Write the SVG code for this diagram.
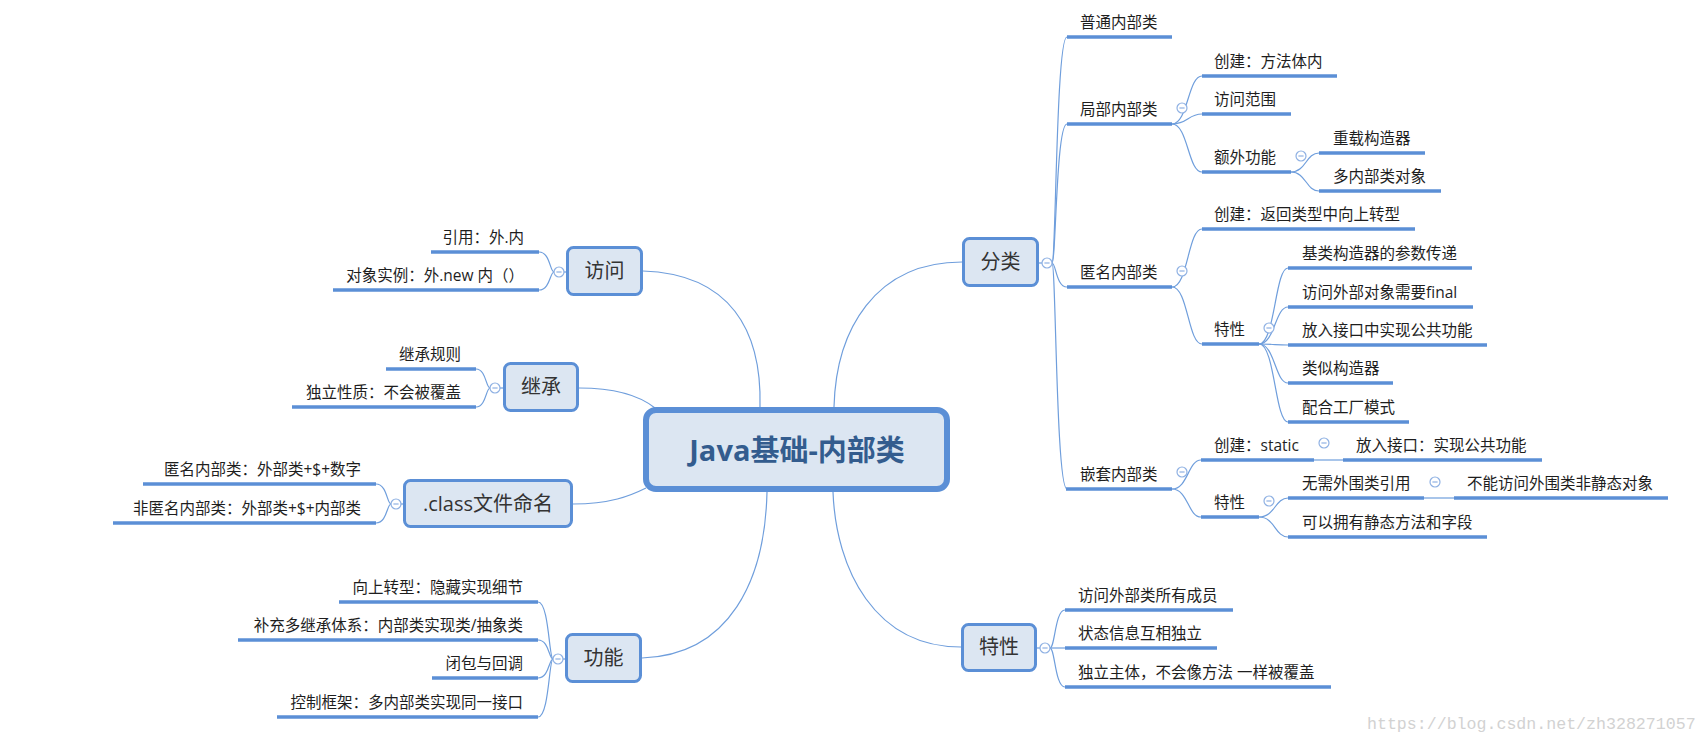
<svg xmlns="http://www.w3.org/2000/svg" xmlns:xlink="http://www.w3.org/1999/xlink" width="1708" height="744" viewBox="0 0 1708 744">
<style>
.bg{fill:#ffffff}
.box{fill:#DCE6F2;stroke:#5B8FD6;stroke-width:3}
.main{fill:#DCE6F2;stroke:#5B8FD6;stroke-width:6}
.ul{stroke:#5B8FD6;stroke-width:3.5;fill:none}
.cn{fill:none;stroke:#6F9EDC;stroke-width:1.2}
.t{font-family:"Open Sans","Noto Sans CJK SC",sans-serif;font-size:15.5px;fill:#1E1E1E}
.r{text-anchor:end}
.bt{font-family:"Open Sans","Noto Sans CJK SC",sans-serif;font-size:20px;fill:#333333;text-anchor:middle}
.mt{font-family:"Open Sans","Noto Sans CJK SC",sans-serif;font-size:29px;font-weight:bold;fill:#335C8E;text-anchor:middle}
.wm{font-family:"Liberation Mono",monospace;font-size:16.6px;fill:#D2D2D2}
</style>
<defs>
<g id="tog"><circle cx="0" cy="0" r="5" fill="#ffffff" stroke="#8FB1E3" stroke-width="1.2"/><line x1="-2.6" y1="0" x2="2.6" y2="0" stroke="#8FB1E3" stroke-width="1.2"/></g>
</defs>
<rect class="bg" x="0" y="0" width="1708" height="744"/>

<g id="connectors">
<path class="cn" d="M643,271 C730,274 762,330 760,407"/>
<path class="cn" d="M579,388 C615,388 640,396 655,408"/>
<path class="cn" d="M573,504 C610,504 630,496 646,488"/>
<path class="cn" d="M642,658 C730,655 765,580 767,492"/>
<path class="cn" d="M962,262 C875,262 836,330 834,407"/>
<path class="cn" d="M961,647 C875,647 836,570 833,492"/>
<path class="cn" d="M566,272 L554,272"/>
<path class="cn" d="M554,272 C550,272 550,252 539,252"/>
<path class="cn" d="M554,272 C550,272 550,290 539,290"/>
<path class="cn" d="M503,388 L490,388"/>
<path class="cn" d="M490,388 C486,388 486,369 476,369"/>
<path class="cn" d="M490,388 C486,388 486,407 476,407"/>
<path class="cn" d="M403,504 L391,504"/>
<path class="cn" d="M391,504 C387,504 387,484 376,484"/>
<path class="cn" d="M391,504 C387,504 387,523 376,523"/>
<path class="cn" d="M565,659 L553,659"/>
<path class="cn" d="M553,659 C549,659 549,602 538,602"/>
<path class="cn" d="M553,659 C549,659 549,640 538,640"/>
<path class="cn" d="M553,659 C549,659 549,678 538,678"/>
<path class="cn" d="M553,659 C549,659 549,717 538,717"/>
<path class="cn" d="M1039,263 L1052,263"/>
<path class="cn" d="M1052,263 C1056,263 1056,37 1067,37"/>
<path class="cn" d="M1052,263 C1056,263 1056,124 1067,124"/>
<path class="cn" d="M1052,263 C1056,263 1056,287 1067,287"/>
<path class="cn" d="M1052,263 C1056,263 1056,489 1067,489"/>
<path class="cn" d="M1172,124 C1188,124 1188,76 1202,76"/>
<path class="cn" d="M1172,124 C1188,124 1188,114 1202,114"/>
<path class="cn" d="M1172,124 C1188,124 1188,172 1202,172"/>
<path class="cn" d="M1291,172 C1306,172 1306,153 1319,153"/>
<path class="cn" d="M1291,172 C1306,172 1306,191 1319,191"/>
<path class="cn" d="M1172,287 C1188,287 1188,229 1202,229"/>
<path class="cn" d="M1172,287 C1188,287 1188,344 1202,344"/>
<path class="cn" d="M1259,344 C1275,344 1275,268 1288,268"/>
<path class="cn" d="M1259,344 C1275,344 1275,307 1288,307"/>
<path class="cn" d="M1259,344 C1275,344 1275,345 1288,345"/>
<path class="cn" d="M1259,344 C1275,344 1275,383 1288,383"/>
<path class="cn" d="M1259,344 C1275,344 1275,422 1288,422"/>
<path class="cn" d="M1172,489 C1188,489 1188,460 1201,460"/>
<path class="cn" d="M1172,489 C1188,489 1188,517 1201,517"/>
<path class="cn" d="M1314,460 L1343,460"/>
<path class="cn" d="M1259,517 C1275,517 1275,498 1288,498"/>
<path class="cn" d="M1259,517 C1275,517 1275,537 1288,537"/>
<path class="cn" d="M1424,498 L1454,498"/>
<path class="cn" d="M1037,648 L1050,648"/>
<path class="cn" d="M1050,648 C1055,648 1055,610 1065,610"/>
<path class="cn" d="M1050,648 C1055,648 1055,648 1065,648"/>
<path class="cn" d="M1050,648 C1055,648 1055,687 1065,687"/>
</g>

<g id="n-root">
<rect class="main" x="646" y="410" width="301" height="79" rx="10"/>
<text class="mt" x="797" y="461">Java基础-内部类</text>
</g>

<g id="n-fangwen">
<rect class="box" x="567.5" y="247.5" width="74" height="47" rx="6"/>
<text class="bt" x="604.5" y="278">访问</text>
<use xlink:href="#tog" x="559" y="272"/>
</g>
<g id="n-yinyong"><line class="ul" x1="431" y1="252" x2="539" y2="252"/><text class="t r" x="524" y="243">引用：外.内</text></g>
<g id="n-duixiang"><line class="ul" x1="333" y1="290" x2="539" y2="290"/><text class="t r" x="524" y="281">对象实例：外.new 内（）</text></g>

<g id="n-jicheng">
<rect class="box" x="504.5" y="363.5" width="73" height="47" rx="6"/>
<text class="bt" x="541" y="394">继承</text>
<use xlink:href="#tog" x="495" y="388"/>
</g>
<g id="n-jichengguize"><line class="ul" x1="386" y1="369" x2="476" y2="369"/><text class="t r" x="461" y="360">继承规则</text></g>
<g id="n-duli"><line class="ul" x1="292" y1="407" x2="476" y2="407"/><text class="t r" x="461" y="398">独立性质：不会被覆盖</text></g>

<g id="n-class">
<rect class="box" x="404.5" y="480.5" width="167" height="46" rx="6"/>
<text class="bt" x="488" y="511">.class文件命名</text>
<use xlink:href="#tog" x="396" y="504"/>
</g>
<g id="n-niming"><line class="ul" x1="143" y1="484" x2="376" y2="484"/><text class="t r" x="361" y="475">匿名内部类：外部类+$+数字</text></g>
<g id="n-feiniming"><line class="ul" x1="113" y1="523" x2="376" y2="523"/><text class="t r" x="361" y="514">非匿名内部类：外部类+$+内部类</text></g>

<g id="n-gongneng">
<rect class="box" x="566.5" y="634.5" width="74" height="47" rx="6"/>
<text class="bt" x="603.5" y="665">功能</text>
<use xlink:href="#tog" x="558" y="659"/>
</g>
<g id="n-xiangshang"><line class="ul" x1="339" y1="602" x2="538" y2="602"/><text class="t r" x="523" y="593">向上转型：隐藏实现细节</text></g>
<g id="n-buchong"><line class="ul" x1="238" y1="640" x2="538" y2="640"/><text class="t r" x="523" y="631">补充多继承体系：内部类实现类/抽象类</text></g>
<g id="n-bibao"><line class="ul" x1="432" y1="678" x2="538" y2="678"/><text class="t r" x="523" y="669">闭包与回调</text></g>
<g id="n-kongzhi"><line class="ul" x1="277" y1="717" x2="538" y2="717"/><text class="t r" x="523" y="708">控制框架：多内部类实现同一接口</text></g>

<g id="n-fenlei">
<rect class="box" x="963.5" y="238.5" width="74" height="47" rx="6"/>
<text class="bt" x="1000.5" y="269">分类</text>
<use xlink:href="#tog" x="1047" y="263"/>
</g>
<g id="n-putong"><line class="ul" x1="1067" y1="37" x2="1172" y2="37"/><text class="t" x="1080" y="28">普通内部类</text></g>
<g id="n-jubu"><line class="ul" x1="1067" y1="124" x2="1172" y2="124"/><text class="t" x="1080" y="115">局部内部类</text><use xlink:href="#tog" x="1182" y="108"/></g>
<g id="n-jubu-chuangjian"><line class="ul" x1="1202" y1="76" x2="1337" y2="76"/><text class="t" x="1214" y="67">创建：方法体内</text></g>
<g id="n-fanwei"><line class="ul" x1="1202" y1="114" x2="1291" y2="114"/><text class="t" x="1214" y="105">访问范围</text></g>
<g id="n-ewai"><line class="ul" x1="1202" y1="172" x2="1291" y2="172"/><text class="t" x="1214" y="163">额外功能</text><use xlink:href="#tog" x="1301" y="156"/></g>
<g id="n-chongzai"><line class="ul" x1="1319" y1="153" x2="1425" y2="153"/><text class="t" x="1333" y="144">重载构造器</text></g>
<g id="n-duoneibu"><line class="ul" x1="1319" y1="191" x2="1441" y2="191"/><text class="t" x="1333" y="182">多内部类对象</text></g>

<g id="n-nimingnb"><line class="ul" x1="1067" y1="287" x2="1172" y2="287"/><text class="t" x="1080" y="278">匿名内部类</text><use xlink:href="#tog" x="1182" y="271"/></g>
<g id="n-niming-chuangjian"><line class="ul" x1="1202" y1="229" x2="1415" y2="229"/><text class="t" x="1214" y="220">创建：返回类型中向上转型</text></g>
<g id="n-niming-texing"><line class="ul" x1="1202" y1="344" x2="1259" y2="344"/><text class="t" x="1214" y="335">特性</text><use xlink:href="#tog" x="1269" y="328"/></g>
<g id="n-jilei"><line class="ul" x1="1288" y1="268" x2="1472" y2="268"/><text class="t" x="1302" y="259">基类构造器的参数传递</text></g>
<g id="n-final"><line class="ul" x1="1288" y1="307" x2="1473" y2="307"/><text class="t" x="1302" y="298">访问外部对象需要final</text></g>
<g id="n-fangru"><line class="ul" x1="1288" y1="345" x2="1487" y2="345"/><text class="t" x="1302" y="336">放入接口中实现公共功能</text></g>
<g id="n-leisi"><line class="ul" x1="1288" y1="383" x2="1393" y2="383"/><text class="t" x="1302" y="374">类似构造器</text></g>
<g id="n-gongchang"><line class="ul" x1="1288" y1="422" x2="1409" y2="422"/><text class="t" x="1302" y="413">配合工厂模式</text></g>

<g id="n-qiantao"><line class="ul" x1="1066" y1="489" x2="1172" y2="489"/><text class="t" x="1080" y="480">嵌套内部类</text><use xlink:href="#tog" x="1182" y="472"/></g>
<g id="n-static"><line class="ul" x1="1201" y1="460" x2="1314" y2="460"/><text class="t" x="1214" y="451">创建：static</text><use xlink:href="#tog" x="1324" y="443"/></g>
<g id="n-jiekou"><line class="ul" x1="1343" y1="460" x2="1542" y2="460"/><text class="t" x="1356" y="451">放入接口：实现公共功能</text></g>
<g id="n-qiantao-texing"><line class="ul" x1="1201" y1="517" x2="1259" y2="517"/><text class="t" x="1214" y="508">特性</text><use xlink:href="#tog" x="1269" y="501"/></g>
<g id="n-wuxu"><line class="ul" x1="1288" y1="498" x2="1424" y2="498"/><text class="t" x="1302" y="489">无需外围类引用</text><use xlink:href="#tog" x="1435" y="482"/></g>
<g id="n-buneng"><line class="ul" x1="1454" y1="498" x2="1668" y2="498"/><text class="t" x="1467" y="489">不能访问外围类非静态对象</text></g>
<g id="n-keyi"><line class="ul" x1="1288" y1="537" x2="1487" y2="537"/><text class="t" x="1302" y="528">可以拥有静态方法和字段</text></g>

<g id="n-texing">
<rect class="box" x="962.5" y="624.5" width="73" height="46" rx="6"/>
<text class="bt" x="999" y="654">特性</text>
<use xlink:href="#tog" x="1045" y="648"/>
</g>
<g id="n-suoyou"><line class="ul" x1="1065" y1="610" x2="1233" y2="610"/><text class="t" x="1078" y="601">访问外部类所有成员</text></g>
<g id="n-zhuangtai"><line class="ul" x1="1065" y1="648" x2="1217" y2="648"/><text class="t" x="1078" y="639">状态信息互相独立</text></g>
<g id="n-zhuti"><line class="ul" x1="1065" y1="687" x2="1331" y2="687"/><text class="t" x="1078" y="678">独立主体，不会像方法 一样被覆盖</text></g>

<text class="wm" x="1367" y="729">https://blog.csdn.net/zh328271057</text>
</svg>
